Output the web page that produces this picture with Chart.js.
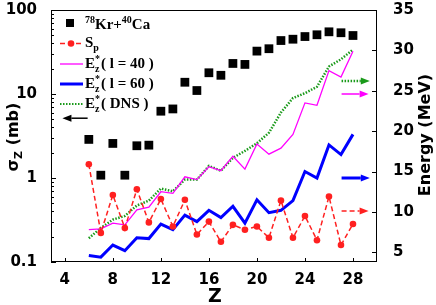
<!DOCTYPE html>
<html>
<head>
<meta charset="utf-8">
<script src="https://cdn.jsdelivr.net/npm/chart.js@4"></script>
<style>
  html, body { margin: 0; padding: 0; background: #fff; }
  #wrap { width: 436px; height: 305px; }
</style>
</head>
<body>
<div id="wrap"><canvas id="zChart"></canvas></div>
<script>
// --- data ---
const zValues = [6, 7, 8, 9, 10, 11, 12, 13, 14, 15, 16, 17, 18, 19, 20, 21, 22, 23, 24, 25, 26, 27, 28];
// sigma_Z (mb), left log axis
const crossSection = [2.88, 1.08, 2.58, 1.08, 2.42, 2.46, 6.24, 6.64, 13.8, 11.0, 17.9, 16.7, 23.1, 22.5, 32.4, 34.6, 43.3, 44.9, 48.3, 50.7, 55.0, 53.6, 49.7];
// energies (MeV), right axis
const sepEnergy = [15.9, 7.4, 12.1, 8.0, 12.8, 8.7, 11.6, 8.2, 11.5, 7.2, 8.8, 6.3, 8.4, 7.8, 8.2, 6.8, 11.4, 6.8, 9.5, 6.5, 11.9, 5.9, 8.5];
const excL40 = [7.8, 7.9, 8.6, 8.4, 10.25, 10.6, 12.5, 12.3, 14.35, 14.0, 15.6, 15.1, 16.9, 15.3, 18.4, 17.15, 17.9, 19.6, 23.5, 23.2, 27.5, 26.7, 29.9];
const excL60 = [4.6, 4.4, 5.9, 5.2, 6.8, 6.7, 8.5, 7.8, 9.6, 8.8, 10.2, 9.3, 10.7, 8.6, 11.5, 9.9, 10.2, 11.4, 15.0, 14.2, 18.3, 17.1, 19.6];
const excDNS = [6.75, 8.0, 9.05, 9.5, 10.8, 11.4, 12.9, 12.55, 14.0, 14.0, 15.7, 15.1, 16.7, 17.55, 18.5, 19.8, 22.3, 24.1, 24.7, 25.5, 28.0, 28.9, 30.1];

const xTicks = [4, 8, 12, 16, 20, 24, 28];
const leftTicks = [0.1, 1, 10, 100];
const rightTicks = [5, 10, 15, 20, 25, 30, 35];

const RED = '#ff2020';
const MAGENTA = '#ff00ff';
const BLUE = '#0000ff';
const GREEN = '#1a9a1a';

const TICK_FONT = { family: 'DejaVu Sans', weight: 'bold', size: 15 };

function pairs(ys) {
    return zValues.map((z, i) => ({ x: z, y: ys[i] }));
}

// no label overflow padding, so the plot box sits where the figure has it
function noPad(s) {
    s.paddingTop = 0;
    s.paddingBottom = 0;
    s.paddingLeft = 0;
    s.paddingRight = 0;
}

// --- frame, inward ticks, titles, legend, arrows ---
function arrow(ctx, x1, y1, x2, y2, color, dash, width) {
    const dir = Math.sign(x2 - x1);
    const head = 9;
    ctx.save();
    ctx.strokeStyle = color;
    ctx.fillStyle = color;
    ctx.lineWidth = width;
    ctx.setLineDash(dash);
    ctx.beginPath();
    ctx.moveTo(x1, y1);
    ctx.lineTo(x2 - dir * head, y2);
    ctx.stroke();
    ctx.setLineDash([]);
    ctx.beginPath();
    ctx.moveTo(x2, y2);
    ctx.lineTo(x2 - dir * head, y2 - 3.5);
    ctx.lineTo(x2 - dir * head, y2 + 3.5);
    ctx.closePath();
    ctx.fill();
    ctx.restore();
}

const decorPlugin = {
    id: 'decor',
    afterDraw(chart) {
        const ctx = chart.ctx;
        const a = chart.chartArea;
        const sx = chart.scales.x, sy = chart.scales.y, sy1 = chart.scales.y1;
        ctx.save();

        // frame
        ctx.strokeStyle = '#000';
        ctx.lineWidth = 1;
        ctx.strokeRect(a.left + 0.5, a.top + 0.5, a.right - a.left - 1, a.bottom - a.top - 1);

        // inward ticks
        ctx.beginPath();
        xTicks.forEach(v => {
            const px = Math.round(sx.getPixelForValue(v)) + 0.5;
            ctx.moveTo(px, a.bottom);
            ctx.lineTo(px, a.bottom - 4);
        });
        leftTicks.forEach(v => {
            const py = Math.round(sy.getPixelForValue(v)) + 0.5;
            ctx.moveTo(a.left, py);
            ctx.lineTo(a.left + 5, py);
        });
        [0.1, 1, 10].forEach(d => {
            for (let m = 2; m <= 9; m++) {
                const py = Math.round(sy.getPixelForValue(m * d)) + 0.5;
                ctx.moveTo(a.left, py);
                ctx.lineTo(a.left + 3, py);
            }
        });
        rightTicks.forEach(v => {
            const py = Math.round(sy1.getPixelForValue(v)) + 0.5;
            ctx.moveTo(a.right, py);
            ctx.lineTo(a.right - 5, py);
        });
        ctx.stroke();

        // axis titles
        ctx.fillStyle = '#000';
        ctx.textBaseline = 'alphabetic';
        ctx.font = 'bold 19px "DejaVu Sans"';
        ctx.textAlign = 'center';
        ctx.fillText('Z', (a.left + a.right) / 2 + 1, 302);

        // left: sigma_Z (mb)
        ctx.save();
        ctx.translate(18, 137);
        ctx.rotate(-Math.PI / 2);
        ctx.textAlign = 'left';
        const big = 'bold 16px "DejaVu Sans"';
        const small = 'bold 11px "DejaVu Sans"';
        ctx.font = big;
        const wSig = ctx.measureText('σ').width;
        ctx.font = small;
        const wZ = ctx.measureText('Z').width;
        ctx.font = big;
        const wRest = ctx.measureText(' (mb)').width;
        let tx = -(wSig + wZ + wRest) / 2;
        ctx.fillText('σ', tx, 0);
        tx += wSig;
        ctx.font = small;
        ctx.fillText('Z', tx, 4);
        tx += wZ;
        ctx.font = big;
        ctx.fillText(' (mb)', tx, 0);
        ctx.restore();

        // right: Energy (MeV)
        ctx.save();
        ctx.translate(430, 135);
        ctx.rotate(-Math.PI / 2);
        ctx.textAlign = 'center';
        ctx.font = 'bold 16px "DejaVu Sans"';
        ctx.fillText('Energy (MeV)', 0, 0);
        ctx.restore();

        // legend
        const serif = 'bold 15px "Liberation Serif"';
        const serifSm = 'bold 10px "Liberation Serif"';
        const tx0 = 85;
        // row 1
        ctx.fillStyle = '#000';
        ctx.fillRect(66, 19, 8, 8);
        ctx.textAlign = 'left';
        let x = tx0;
        const parts = [['78', serifSm, -6], ['Kr+', serif, 0], ['40', serifSm, -6], ['Ca', serif, 0]];
        parts.forEach(p => {
            ctx.font = p[1];
            ctx.fillText(p[0], x, 29 + p[2]);
            x += ctx.measureText(p[0]).width;
        });
        // row 2: S_p
        ctx.strokeStyle = RED;
        ctx.lineWidth = 1.5;
        ctx.setLineDash([5, 3]);
        ctx.beginPath(); ctx.moveTo(60, 43.5); ctx.lineTo(83, 43.5); ctx.stroke();
        ctx.setLineDash([]);
        ctx.fillStyle = RED;
        ctx.beginPath(); ctx.arc(71, 43.5, 3.3, 0, Math.PI * 2); ctx.fill();
        ctx.fillStyle = '#000';
        ctx.font = serif;
        ctx.fillText('S', tx0, 47);
        const wS = ctx.measureText('S').width;
        ctx.font = serifSm;
        ctx.fillText('p', tx0 + wS, 51);

        // rows 3-5: E*_z
        const rows = [
            { y: 64, base: 68, color: MAGENTA, w: 1.3, dash: [], label: '( l = 40 )' },
            { y: 84, base: 88, color: BLUE, w: 3, dash: [], label: '( l = 60 )' },
            { y: 104, base: 108, color: GREEN, w: 2, dash: [1.5, 1.5], label: '( DNS )' }
        ];
        rows.forEach(r => {
            ctx.strokeStyle = r.color;
            ctx.lineWidth = r.w;
            ctx.setLineDash(r.dash);
            ctx.beginPath(); ctx.moveTo(60, r.y); ctx.lineTo(83, r.y); ctx.stroke();
            ctx.setLineDash([]);
            ctx.fillStyle = '#000';
            ctx.font = serif;
            ctx.fillText('E', tx0, r.base);
            const wE = ctx.measureText('E').width;
            ctx.font = serifSm;
            ctx.fillText('*', tx0 + wE, r.base - 6);
            ctx.fillText('z', tx0 + wE, r.base + 4);
            ctx.font = serif;
            ctx.fillText(r.label, tx0 + wE + 6, r.base);
        });

        // arrows pointing to the axis each curve belongs to
        const ax = v => sx.getPixelForValue(v);
        arrow(ctx, ax(5.9), sy.getPixelForValue(5.15), ax(3.8), sy.getPixelForValue(5.15), '#000', [], 1.5);
        arrow(ctx, ax(27.05), sy1.getPixelForValue(26.2), ax(29.4), sy1.getPixelForValue(26.2), GREEN, [1.5, 1.5], 2.5);
        arrow(ctx, ax(27.05), sy1.getPixelForValue(24.6), ax(29.3), sy1.getPixelForValue(24.6), MAGENTA, [], 1.5);
        arrow(ctx, ax(27.05), sy1.getPixelForValue(14.2), ax(29.4), sy1.getPixelForValue(14.2), BLUE, [], 3);
        arrow(ctx, ax(27.05), sy1.getPixelForValue(10.1), ax(29.3), sy1.getPixelForValue(10.1), RED, [5, 3], 1.5);

        ctx.restore();
    }
};

const ctx = document.getElementById('zChart');
new Chart(ctx, {
    type: 'line',
    data: {
        datasets: [
            {
                label: 'Sp',
                data: pairs(sepEnergy),
                yAxisID: 'y1',
                borderColor: RED,
                backgroundColor: RED,
                borderWidth: 1.5,
                borderDash: [5, 3],
                pointRadius: 3.3,
                pointBorderWidth: 0,
                tension: 0
            },
            {
                label: 'E l=40',
                data: pairs(excL40),
                yAxisID: 'y1',
                borderColor: MAGENTA,
                borderWidth: 1.3,
                pointRadius: 0,
                tension: 0
            },
            {
                label: 'E l=60',
                data: pairs(excL60),
                yAxisID: 'y1',
                borderColor: BLUE,
                borderWidth: 3,
                pointRadius: 0,
                tension: 0
            },
            {
                label: 'E DNS',
                data: pairs(excDNS),
                yAxisID: 'y1',
                borderColor: GREEN,
                borderWidth: 2.5,
                borderDash: [1.5, 1.5],
                pointRadius: 0,
                tension: 0
            },
            {
                label: '78Kr+40Ca',
                data: pairs(crossSection),
                yAxisID: 'y',
                showLine: false,
                pointStyle: 'rect',
                pointRadius: 6.2,
                pointBorderWidth: 0,
                backgroundColor: '#000',
                borderColor: '#000'
            }
        ]
    },
    options: {
        responsive: true,
        maintainAspectRatio: false,
        animation: false,
        layout: { padding: { top: 10, left: 0, right: 0, bottom: 0 } },
        plugins: {
            legend: { display: false },
            tooltip: { enabled: false }
        },
        scales: {
            x: {
                type: 'linear',
                min: 2.85,
                max: 30,
                grid: { display: false },
                border: { display: false },
                afterFit: s => { s.height = 43; noPad(s); },
                afterBuildTicks: s => { s.ticks = xTicks.map(v => ({ value: v })); },
                ticks: { color: '#000', font: TICK_FONT, padding: 1, maxRotation: 0 }
            },
            y: {
                type: 'logarithmic',
                position: 'left',
                min: 0.1,
                max: 100,
                grid: { display: false },
                border: { display: false },
                afterFit: s => { s.width = 51; noPad(s); },
                afterBuildTicks: s => { s.ticks = leftTicks.map(v => ({ value: v })); },
                ticks: { color: '#000', font: TICK_FONT, padding: 6, callback: v => String(v) }
            },
            y1: {
                type: 'linear',
                position: 'right',
                min: 3.8,
                max: 35,
                grid: { display: false },
                border: { display: false },
                afterFit: s => { s.width = 59; noPad(s); },
                afterBuildTicks: s => { s.ticks = rightTicks.map(v => ({ value: v })); },
                ticks: { color: '#000', font: TICK_FONT, padding: 8 }
            }
        }
    },
    plugins: [decorPlugin]
});
</script>
</body>
</html>
